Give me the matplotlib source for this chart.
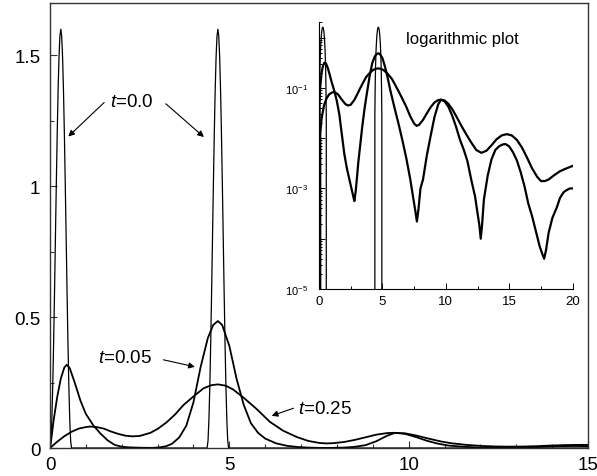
import matplotlib
matplotlib.use('Agg')
import matplotlib.pyplot as plt
from matplotlib.ticker import MultipleLocator, FixedLocator, LogLocator, NullFormatter, FuncFormatter

plt.rcParams['font.family'] = ['Liberation Sans', 'DejaVu Sans']
plt.rcParams['mathtext.fontset'] = 'custom'
plt.rcParams['mathtext.rm'] = 'Liberation Sans'
plt.rcParams['mathtext.it'] = 'Liberation Sans:italic'
plt.rcParams['mathtext.bf'] = 'Liberation Sans:bold'

# ---------------- data ----------------
# t = 0.0 : two narrow bumps
x_t0 = [0.0, 0.025, 0.05, 0.075, 0.1, 0.125, 0.15, 0.175, 0.2, 0.225, 0.25, 0.275, 0.3,
        0.325, 0.35, 0.375, 0.4, 0.425, 0.45, 0.475, 0.5, 0.525, 0.55, 0.575, 0.6,
        4.38, 4.405, 4.43, 4.455, 4.48, 4.505, 4.53, 4.555, 4.58, 4.605, 4.63, 4.655, 4.68,
        4.705, 4.73, 4.755, 4.78, 4.805, 4.83, 4.855, 4.88, 4.905, 4.93, 4.955, 4.98, 20.0]
y_t0 = [0.0, 0.027, 0.107, 0.234, 0.4, 0.593, 0.8, 1.007, 1.2, 1.366, 1.493, 1.573, 1.6,
        1.573, 1.493, 1.366, 1.2, 1.007, 0.8, 0.593, 0.4, 0.234, 0.107, 0.027, 0.0,
        0.0, 0.027, 0.107, 0.234, 0.4, 0.593, 0.8, 1.007, 1.2, 1.366, 1.493, 1.573, 1.6,
        1.573, 1.493, 1.366, 1.2, 1.007, 0.8, 0.593, 0.4, 0.234, 0.107, 0.027, 0.0, 0.0]

# t = 0.05
x_t005 = [0.0, 0.05, 0.1, 0.2, 0.3, 0.4, 0.47, 0.55, 0.7, 0.85, 1.0, 1.2, 1.4, 1.6, 1.8,
          2.0, 2.2, 2.4, 2.6, 2.7, 2.79, 2.9, 3.0, 3.1, 3.23, 3.4, 3.6, 3.8, 4.0, 4.2,
          4.4, 4.55, 4.68, 4.8, 5.0, 5.2, 5.4, 5.6, 5.8, 6.0, 6.3, 6.6, 6.9, 7.2, 7.45,
          7.6, 7.72, 7.85, 8.0, 8.2, 8.5, 8.8, 9.1, 9.4, 9.62, 9.9, 10.2, 10.5, 10.8,
          11.1, 11.4, 11.7, 12.0, 12.3, 12.5, 12.65, 12.75, 12.85, 13.0, 13.3, 13.6,
          13.9, 14.2, 14.5, 14.72, 15.0, 15.3, 15.6, 15.9, 16.2, 16.5, 16.8, 17.1, 17.4,
          17.6, 17.75, 17.9, 18.1, 18.4, 18.75, 19.0, 19.3, 19.6, 19.8, 20.0]
y_t005 = [0.0, 0.05, 0.105, 0.195, 0.265, 0.308, 0.318, 0.305, 0.245, 0.18, 0.13, 0.088,
          0.056, 0.030, 0.012, 0.0048, 0.0025, 0.0015, 0.0009, 0.0007, 0.00056, 0.0009,
          0.0017, 0.0033, 0.0065, 0.016, 0.04, 0.085, 0.175, 0.31, 0.42, 0.47, 0.485,
          0.47, 0.39, 0.265, 0.165, 0.095, 0.058, 0.036, 0.018, 0.0085, 0.0038, 0.0015,
          0.0006, 0.00035, 0.00022, 0.0004, 0.001, 0.0015, 0.0045, 0.011, 0.026, 0.047,
          0.058, 0.054, 0.042, 0.028, 0.017, 0.0095, 0.006, 0.0035, 0.0015, 0.0007,
          0.00032, 0.00018, 0.0001, 0.00018, 0.0006, 0.0018, 0.0038, 0.0058, 0.0069,
          0.0075, 0.0076, 0.0068, 0.0052, 0.0036, 0.0021, 0.0011, 0.0005, 0.00028,
          0.00014, 7e-5, 5e-5, 4e-5, 6e-5, 0.00013, 0.00026, 0.00042, 0.00065, 0.00085,
          0.00095, 0.001, 0.001]

# t = 0.25
x_t025 = [0.0, 0.1, 0.2, 0.4, 0.6, 0.8, 1.0, 1.12, 1.3, 1.5, 1.7, 1.9, 2.1, 2.3, 2.5,
          2.8, 3.0, 3.25, 3.5, 3.72, 4.0, 4.28, 4.5, 4.68, 4.9, 5.1, 5.39, 5.76, 6.13,
          6.5, 6.88, 7.2, 7.5, 7.7, 7.9, 8.2, 8.5, 8.8, 9.1, 9.4, 9.6, 9.9, 10.2, 10.55,
          10.9, 11.2, 11.6, 12.0, 12.4, 12.8, 13.2, 13.6, 14.0, 14.4, 14.8, 15.2, 15.6,
          16.0, 16.4, 16.8, 17.2, 17.5, 17.8, 18.1, 18.5, 19.0, 19.5, 20.0]
y_t025 = [0.0, 0.012, 0.024, 0.045, 0.062, 0.074, 0.080, 0.082, 0.080, 0.074, 0.063,
          0.054, 0.047, 0.0445, 0.046, 0.058, 0.073, 0.098, 0.13, 0.164, 0.197, 0.228,
          0.240, 0.243, 0.238, 0.224, 0.193, 0.149, 0.100, 0.066, 0.042, 0.027, 0.0195,
          0.0175, 0.0185, 0.023, 0.031, 0.041, 0.051, 0.057, 0.058, 0.056, 0.048, 0.036,
          0.025, 0.018, 0.012, 0.0082, 0.0058, 0.0051, 0.0056, 0.0072, 0.0095, 0.0113,
          0.012, 0.0113, 0.0092, 0.0065, 0.0041, 0.0025, 0.0017, 0.0014, 0.0014, 0.0015,
          0.0018, 0.0022, 0.0025, 0.0028]

main_xticks = [0, 5, 10, 15]
main_xlabels = ['0', '5', '10', '15']
main_yticks = [0, 0.5, 1.0, 1.5]
main_ylabels = ['0', '0.5', '1', '1.5']
inset_xticks = [0, 5, 10, 15, 20]
inset_xlabels = ['0', '5', '10', '15', '20']
inset_yticks = [1e-5, 1e-4, 1e-3, 1e-2, 1e-1, 1e0]
inset_ylabels = [r'$10^{-5}$', '', r'$10^{-3}$', '', r'$10^{-1}$', '']

labels_t = [r'$t$=0.0', r'$t$=0.05', r'$t$=0.25']

# ---------------- figure ----------------
fig = plt.figure(figsize=(5.97, 4.77), dpi=100)
ax = fig.add_axes([0.0838, 0.0587, 0.9011, 0.9329])
ax.plot(x_t0, y_t0, color='k', lw=0.9)
ax.plot(x_t005, y_t005, color='k', lw=1.3)
ax.plot(x_t025, y_t025, color='k', lw=1.3)
ax.set_xlim(0, 15)
ax.set_ylim(0, 1.7)
ax.set_xticks(main_xticks)
ax.set_xticklabels(main_xlabels)
ax.set_yticks(main_yticks)
ax.set_yticklabels(main_ylabels)
ax.xaxis.set_minor_locator(MultipleLocator(1))
ax.yaxis.set_minor_locator(MultipleLocator(0.25))
ax.tick_params(which='both', direction='in', labelsize=13.5, color='#333333')
ax.tick_params(which='major', length=5, width=0.8)
ax.tick_params(which='minor', length=3, width=0.8)
ax.tick_params(axis='x', pad=6)
ax.tick_params(axis='y', pad=7)
for s in ax.spines.values():
    s.set_linewidth(1.0)
    s.set_color('#333333')

arrow_kw = dict(arrowstyle='-|>', lw=0.8, color='k', mutation_scale=9,
                shrinkA=0, shrinkB=0)
ax.text(2.29, 1.323, labels_t[0], fontsize=13.5, ha='center', va='center')
ax.annotate('', xy=(0.51, 1.19), xytext=(1.51, 1.320), arrowprops=arrow_kw)
ax.annotate('', xy=(4.29, 1.188), xytext=(3.23, 1.315), arrowprops=arrow_kw)
ax.text(2.09, 0.345, labels_t[1], fontsize=13.5, ha='center', va='center')
ax.annotate('', xy=(4.04, 0.310), xytext=(3.16, 0.337), arrowprops=arrow_kw)
ax.text(7.67, 0.152, labels_t[2], fontsize=13.5, ha='center', va='center')
ax.annotate('', xy=(6.18, 0.123), xytext=(6.79, 0.152), arrowprops=arrow_kw)

# ---------------- inset ----------------
axin = fig.add_axes([0.5343, 0.392, 0.425, 0.559])
axin.set_facecolor('none')
axin.set_yscale('log', nonpositive='clip')
axin.plot(x_t0, y_t0, color='k', lw=0.9)
axin.plot(x_t005, y_t005, color='k', lw=1.6)
axin.plot(x_t025, y_t025, color='k', lw=1.6)
axin.set_xlim(0, 20)
axin.set_ylim(1e-5, 2)
axin.spines['top'].set_visible(False)
axin.spines['right'].set_visible(False)
axin.set_xticks(inset_xticks)
axin.set_xticklabels(inset_xlabels)
axin.xaxis.set_minor_locator(MultipleLocator(2.5))
axin.yaxis.set_major_locator(FixedLocator(inset_yticks))
axin.set_yticklabels(inset_ylabels)
axin.yaxis.set_minor_locator(LogLocator(base=10, subs=range(2, 10), numticks=20))
axin.yaxis.set_minor_formatter(NullFormatter())
axin.tick_params(which='both', direction='in', width=0.7)
axin.tick_params(which='major', length=4)
axin.tick_params(which='minor', length=2.5)
axin.tick_params(axis='x', labelsize=9.5, pad=4)
axin.tick_params(axis='y', labelsize=8, pad=8)
axin.text(0.343, 0.94, 'logarithmic plot', transform=axin.transAxes,
          fontsize=12, ha='left', va='center')

fig.savefig('out.png', dpi=100)
